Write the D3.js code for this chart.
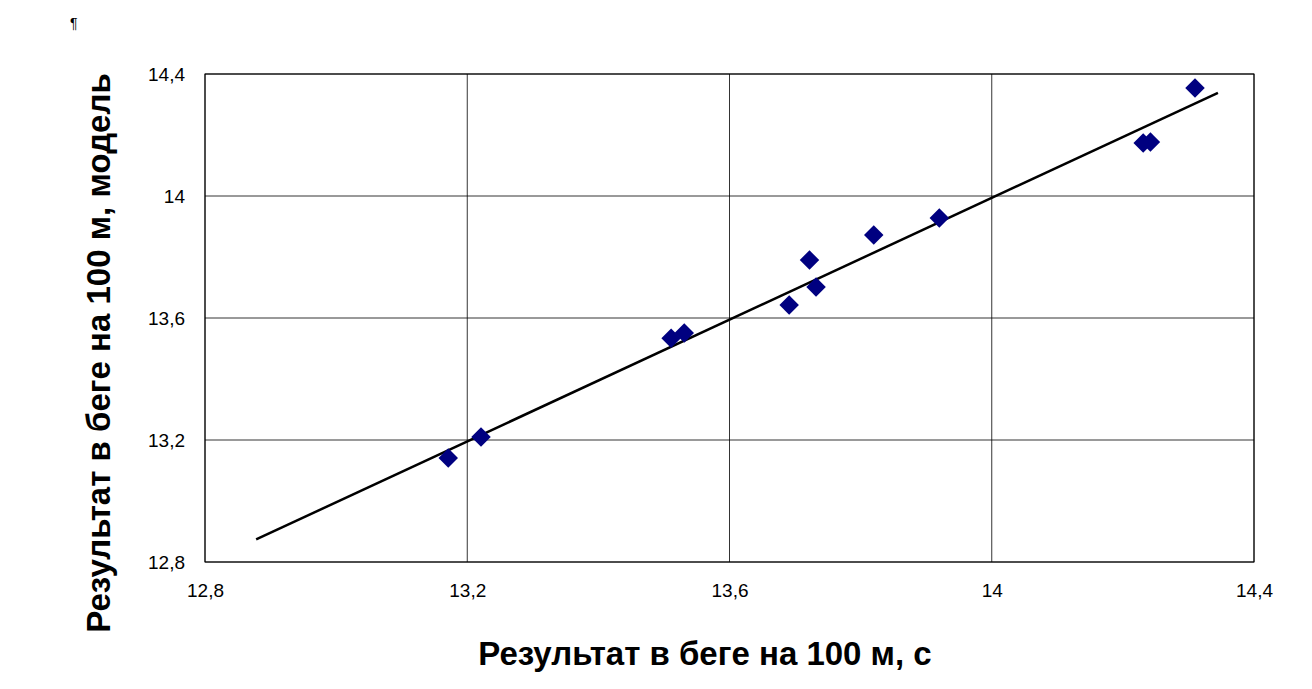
<!DOCTYPE html>
<html><head><meta charset="utf-8">
<script src="https://cdn.jsdelivr.net/npm/d3@7"></script>
<style>body{margin:0;background:#fff}text{font-family:"Liberation Sans",Arial,sans-serif}</style>
</head><body><svg id="c" width="1312" height="689"></svg>
<script>
const xActual=[13.171,13.221,13.511,13.531,13.691,13.722,13.732,13.820,13.920,14.231,14.242,14.310];
const yModel=[13.141,13.210,13.534,13.551,13.643,13.790,13.702,13.872,13.928,14.174,14.177,14.354];
const trendX=[12.878,14.345];
const trendY=[12.874,14.338];
const xTicks=[12.8,13.2,13.6,14,14.4];
const yTicks=[12.8,13.2,13.6,14,14.4];
const fmt=d=>String(d).replace('.',',');
const svg=d3.select('#c');
const x=d3.scaleLinear().domain([12.8,14.4]).range([205,1254]);
const y=d3.scaleLinear().domain([12.8,14.4]).range([562,74]);
svg.append('rect').attr('x',205).attr('y',74).attr('width',1049).attr('height',488).attr('fill','none').attr('stroke','#000');
svg.append('g').selectAll('line').data(xTicks).join('line').attr('x1',d=>x(d)).attr('x2',d=>x(d)).attr('y1',74).attr('y2',562).attr('stroke','#000').attr('stroke-width',0.8);
svg.append('g').selectAll('line').data(yTicks).join('line').attr('y1',d=>y(d)).attr('y2',d=>y(d)).attr('x1',205).attr('x2',1254).attr('stroke','#000').attr('stroke-width',0.8);
svg.append('g').attr('transform','translate(0,562)').call(d3.axisBottom(x).tickValues(xTicks).tickFormat(fmt).tickSize(0).tickPadding(22))
 .call(g=>{g.select('.domain').remove();g.selectAll('text').attr('font-size',19).attr('font-family','Liberation Sans, Arial')});
svg.append('g').attr('transform','translate(205,0)').call(d3.axisLeft(y).tickValues(yTicks).tickFormat(fmt).tickSize(0).tickPadding(20))
 .call(g=>{g.select('.domain').remove();g.selectAll('text').attr('font-size',19).attr('font-family','Liberation Sans, Arial')});
svg.append('line').attr('x1',x(trendX[0])).attr('y1',y(trendY[0])).attr('x2',x(trendX[1])).attr('y2',y(trendY[1])).attr('stroke','#000').attr('stroke-width',2.5);
svg.append('g').selectAll('path').data(xActual.map((d,i)=>[d,yModel[i]])).join('path')
 .attr('d',d3.symbol(d3.symbolSquare,190)).attr('transform',d=>`translate(${x(d[0])},${y(d[1])}) rotate(45)`).attr('fill','#000080');
svg.append('text').attr('x',705).attr('y',665).attr('text-anchor','middle').attr('font-size',33).attr('font-weight','bold').text('Результат в беге на 100 м, с');
svg.append('text').attr('transform','translate(110,353) rotate(-90)').attr('text-anchor','middle').attr('font-size',33).attr('font-weight','bold').text('Результат в беге на 100 м, модель');
svg.append('text').attr('x',70).attr('y',28).attr('font-size',14).text('¶');
</script></body></html>
